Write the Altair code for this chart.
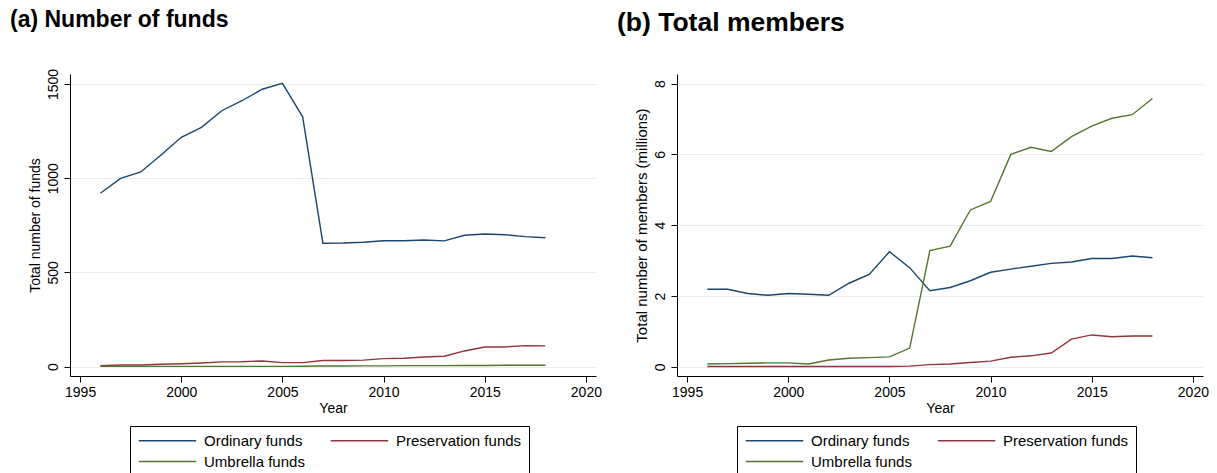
import altair as alt
import pandas as pd

# Fund statistics by year, 1996-2018
years = list(range(1996, 2019))
series_names = ["Ordinary funds", "Preservation funds", "Umbrella funds"]
series_colors = ["#1a476f", "#90353b", "#55752f"]

# (a) number of funds
funds_ordinary = [920, 999, 1033, 1123, 1217, 1270, 1358, 1411, 1472, 1503, 1326,
                  655, 656, 660, 668, 668, 672, 667, 697, 704, 700, 690, 684]
funds_preservation = [5, 8, 8, 12, 15, 19, 25, 26, 30, 21, 21,
                      32, 32, 34, 42, 44, 51, 55, 83, 104, 104, 111, 110]
funds_umbrella = [1, 1, 1, 1, 1, 1, 1, 1, 1, 1, 2,
                  3, 3, 4, 4, 5, 5, 5, 6, 6, 7, 7, 7]

# (b) total members, millions
members_ordinary = [2.19, 2.19, 2.07, 2.02, 2.07, 2.05, 2.02, 2.36, 2.61, 3.25, 2.80,
                    2.15, 2.24, 2.43, 2.67, 2.76, 2.84, 2.92, 2.96, 3.06, 3.06, 3.13, 3.08]
members_preservation = [0.01, 0.01, 0.01, 0.01, 0.01, 0.01, 0.01, 0.01, 0.01, 0.01, 0.02,
                        0.06, 0.08, 0.12, 0.16, 0.27, 0.31, 0.39, 0.78, 0.90, 0.85, 0.87, 0.87]
members_umbrella = [0.08, 0.09, 0.10, 0.11, 0.11, 0.08, 0.19, 0.24, 0.26, 0.28, 0.53,
                    3.28, 3.41, 4.43, 4.67, 6.00, 6.20, 6.08, 6.50, 6.80, 7.02, 7.12, 7.58]

x_ticks = [1995, 2000, 2005, 2010, 2015, 2020]
funds_ticks = [0, 500, 1000, 1500]
members_ticks = [0, 2, 4, 6, 8]

FONT = "Liberation Sans"

# legend key: a long horizontal stroke drawn from a small nominal symbol size
KEY_PATH = "M-5,0H5"
KEY_SIZE = 132


def long_frame(cols):
    rows = []
    for name, vals in zip(series_names, cols):
        for yr, v in zip(years, vals):
            rows.append({"year": yr, "value": v, "series": name})
    return pd.DataFrame(rows)


def panel(df, title, title_size, title_offset, ytitle, ytitle_size, ydomain, yticks):
    return alt.Chart(df).mark_line(strokeWidth=1.4).encode(
        x=alt.X("year:Q",
                scale=alt.Scale(domain=[1994.5, 2020.5], nice=False, zero=False),
                axis=alt.Axis(values=x_ticks, format="d", title="Year", grid=False,
                              titlePadding=2)),
        y=alt.Y("value:Q",
                scale=alt.Scale(domain=ydomain, nice=False, zero=False),
                axis=alt.Axis(values=yticks, format="d", title=ytitle, grid=True,
                              titleFontSize=ytitle_size, titlePadding=4, labelPadding=4,
                              labelAngle=270, labelAlign="center", labelBaseline="bottom")),
        color=alt.Color("series:N",
                        scale=alt.Scale(domain=series_names, range=series_colors),
                        legend=alt.Legend(orient="none", legendX=60, legendY=352,
                                          direction="horizontal",
                                          title=None, columns=2, symbolType=KEY_PATH,
                                          symbolSize=KEY_SIZE, symbolStrokeWidth=1.4,
                                          symbolOffset=23,
                                          labelFont=FONT, labelFontSize=15, labelColor="black",
                                          labelOffset=29, columnPadding=22, rowPadding=5,
                                          padding=7, strokeColor="black", fillColor="white")),
    ).properties(
        width=526, height=302,
        title=alt.TitleParams(title, anchor="start", frame="group", dx=-60, offset=title_offset,
                              font=FONT, fontSize=title_size, fontWeight="bold", color="black"),
    )


left = panel(long_frame([funds_ordinary, funds_preservation, funds_umbrella]),
             "(a) Number of funds", 23, 36,
             "Total number of funds", 14, [-50, 1553], funds_ticks)
right = panel(long_frame([members_ordinary, members_preservation, members_umbrella]),
              "(b) Total members", 26.5, 38,
              "Total number of members (millions)", 15, [-0.26, 8.27], members_ticks)

chart = alt.hconcat(left, right, spacing=15).resolve_scale(
    y="independent", color="independent"
).resolve_legend(color="independent").properties(
    padding={"left": 10, "top": 9, "right": 5, "bottom": 0},
    background="white",
).configure_view(stroke=None).configure_axis(
    labelFont=FONT, labelFontSize=14, labelColor="black",
    titleFont=FONT, titleFontSize=14, titleColor="black", titleFontWeight="normal",
    domainColor="black", domainWidth=1, tickColor="black", tickSize=6, tickWidth=1,
    gridColor="#e6eef0", gridWidth=1, labelPadding=3,
)

chart.save("out.html", embed_options={"renderer": "svg", "actions": False})
